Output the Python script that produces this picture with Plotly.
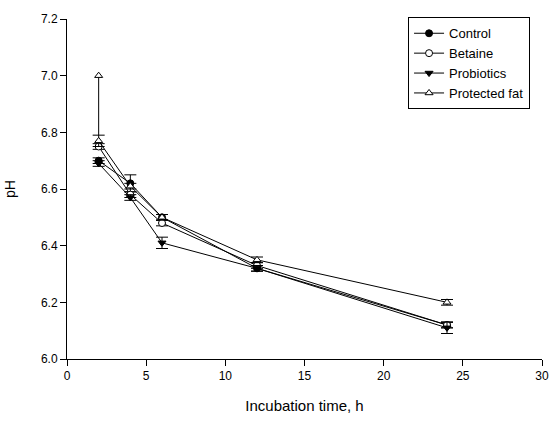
import plotly.graph_objects as go

time_h = [2, 4, 6, 12, 24]
control = [6.70, 6.62, 6.50, 6.32, 6.12]
control_err = [0.01, 0.03, 0.01, 0.01, 0.01]
betaine = [6.75, 6.58, 6.48, 6.33, 6.12]
betaine_err = [0.01, 0.01, 0.01, 0.01, 0.01]
probiotics = [6.69, 6.57, 6.41, 6.32, 6.11]
probiotics_err = [0.01, 0.01, 0.02, 0.01, 0.02]
protected_fat = [6.77, 6.61, 6.50, 6.35, 6.20]
protected_fat_err = [0.02, 0.01, 0.01, 0.01, 0.01]
outlier_x = [2]
outlier_y = [7.00]
outlier_down = [0.21]

series = [
    ("Control", control, control_err, "circle", "black"),
    ("Betaine", betaine, betaine_err, "circle", "white"),
    ("Probiotics", probiotics, probiotics_err, "triangle-down", "black"),
    ("Protected fat", protected_fat, protected_fat_err, "triangle-up", "white"),
]

fig = go.Figure()
for name, ys, err, sym, fill in series:
    fig.add_trace(go.Scatter(
        x=time_h, y=ys, name=name, mode="lines+markers",
        line=dict(color="black", width=1),
        marker=dict(symbol=sym, size=7, color=fill, line=dict(color="black", width=1)),
        error_y=dict(type="data", array=err, color="black", thickness=1, width=6),
    ))

fig.add_trace(go.Scatter(
    x=outlier_x, y=outlier_y, mode="markers", showlegend=False,
    marker=dict(symbol="triangle-up", size=7, color="white", line=dict(color="black", width=1)),
    error_y=dict(type="data", symmetric=False, array=[0], arrayminus=outlier_down,
                 color="black", thickness=1, width=0),
))

font = "Liberation Sans, Arial, sans-serif"
fig.update_layout(
    width=560, height=423,
    margin=dict(l=67, r=18, t=19, b=64),
    paper_bgcolor="white", plot_bgcolor="white",
    font=dict(family=font, size=12, color="black"),
    xaxis=dict(range=[0, 30], tickvals=[0, 5, 10, 15, 20, 25, 30],
               showline=True, linecolor="black", linewidth=1, ticks="outside",
               ticklen=6, tickcolor="black", showgrid=False, zeroline=False,
               automargin=False,
               title=dict(text="Incubation time, h", font=dict(size=15), standoff=18),
               tickfont=dict(size=12)),
    yaxis=dict(range=[6.0, 7.2], tickvals=[6.0, 6.2, 6.4, 6.6, 6.8, 7.0, 7.2],
               tickformat=".1f",
               showline=True, linecolor="black", linewidth=1, ticks="outside",
               ticklen=6, tickcolor="black", showgrid=False, zeroline=False,
               automargin=False,
               title=dict(text="pH", font=dict(size=14), standoff=22),
               tickfont=dict(size=12)),
    legend=dict(x=0.718, y=1.005, xanchor="left", yanchor="top",
                bordercolor="black", borderwidth=1, bgcolor="white",
                font=dict(size=13), tracegroupgap=0, itemwidth=30),
    showlegend=True,
)

fig.write_html("out.html", config={"displayModeBar": False},
               post_script="document.body.style.margin='0';")
